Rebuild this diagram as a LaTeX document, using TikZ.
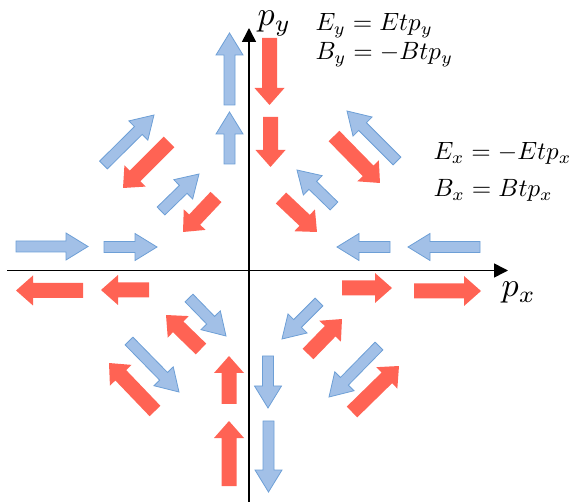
\documentclass[tikz,border=0pt]{standalone}
\usetikzlibrary{arrows.meta,calc}
\definecolor{bluefill}{HTML}{A2C0E7}
\definecolor{blueline}{HTML}{6D9FD6}
\definecolor{redfill}{HTML}{FF6354}
\tikzset{
  bluearr/.style={fill=bluefill, draw=blueline, line width=0.8pt, line join=miter},
  redarr/.style={fill=redfill, draw=none},
  axisline/.style={line width=1.6pt, -{Triangle[length=14pt,width=14pt]}},
  eqtext/.style={anchor=base west, inner sep=0pt, scale=2.5},
  axtext/.style={anchor=base west, inner sep=0pt, scale=3.4}
}
% #1 style, #2 shaft half width, #3 head half width, #4 head length, #5 tail, #6 tip
\newcommand\blkarr[6]{%
  \path[#1] let \p1=(#5), \p2=(#6),
    \n1={atan2(\y2-\y1,\x2-\x1)}, \n2={veclen(\x2-\x1,\y2-\y1)} in
    [shift={(\p1)}, rotate=\n1]
    (0,-#2) -- ({\n2-#4},-#2) -- ({\n2-#4},-#3) -- (\n2,0) --
    ({\n2-#4},#3) -- ({\n2-#4},#2) -- (0,#2) -- cycle;}
\newcommand\barr[2]{\blkarr{bluearr}{5.5}{13.5}{22}{#1}{#2}}
\newcommand\rarr[2]{\blkarr{redarr}{7.5}{15}{17}{#1}{#2}}
\begin{document}
\begin{tikzpicture}[x=1pt,y=-1pt]
\useasboundingbox (0,0) rectangle (573,502);
% axes
\coordinate (xs) at (7,270.5);
\coordinate (xe) at (508,270.5);
\coordinate (ys) at (249,502);
\coordinate (ye) at (249,28);
\draw[axisline] (xs) -- (xe);
\draw[axisline] (ys) -- (ye);
% blue arrows
\barr{229.5,105}{229.5,33}
\barr{229.5,164}{229.5,112}
\barr{16,246.5}{88,246.5}
\barr{104,247}{157,247}
\barr{390,247}{337,247}
\barr{480,247}{408,247}
\barr{268,356}{268,408}
\barr{268.5,421}{268.5,492}
\barr{103.5,165}{154,115}
\barr{161,211}{199,174}
\barr{397,161}{347,111}
\barr{334,206}{297,170}
\barr{189,298}{226,336}
\barr{129,341}{179,392}
\barr{319,302}{282,339}
\barr{379,346}{329,397}
% red arrows
\rarr{269.5,38}{269.5,105}
\rarr{270.5,117}{270.5,167}
\rarr{83,290.5}{16,290.5}
\rarr{149,290}{101,290}
\rarr{342,288}{392,288}
\rarr{414,291}{481,291}
\rarr{229,404}{229,356}
\rarr{229,486}{229,421}
\rarr{169,142}{123,188}
\rarr{216,197}{183,232}
\rarr{334,136}{380,183}
\rarr{281,198}{317,232}
\rarr{201,349}{166,315}
\rarr{155,411}{109,363}
\rarr{308,354}{342,319}
\rarr{352,412}{399,366}
% labels
\node[axtext] (py) at (257,26) {$p_y$};
\node[axtext] (px) at (501,297) {$p_x$};
\node[eqtext] (ey) at (315,31) {$E_y = Etp_y$};
\node[eqtext] (by) at (315,60) {$B_y = -Btp_y$};
\node[eqtext] (ex) at (433,160) {$E_x = -Etp_x$};
\node[eqtext] (bx) at (433,197) {$B_x = Btp_x$};
\end{tikzpicture}
\end{document}
